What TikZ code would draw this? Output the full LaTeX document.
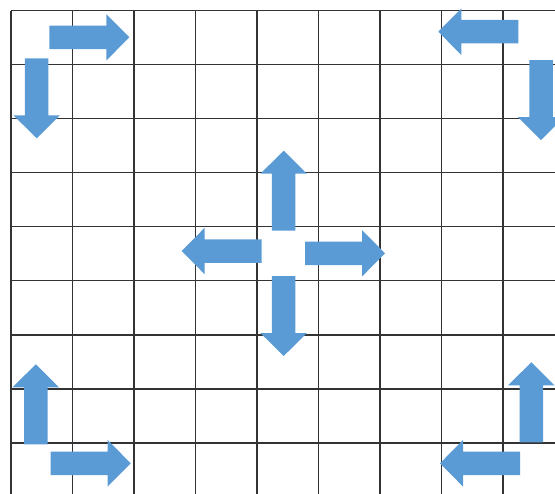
\documentclass[tikz,border=0pt]{standalone}
\definecolor{arrowblue}{HTML}{5B9BD5}
\begin{document}
\begin{tikzpicture}[
    x=0.02cm, y=-0.02cm,
    gridline/.style={draw=black!80, line width=0.8pt},
    blockarrow/.pic={\fill[arrowblue] (0,-11.75) -- (57,-11.75) -- (57,-23.25) -- (80,0) -- (57,23.25) -- (57,11.75) -- (0,11.75) -- cycle;}
]
\useasboundingbox (0,0) rectangle (555,494);
\foreach \i in {0,...,8}
    \draw[gridline] ({11+61.5*\i},10.5) -- ({11+61.5*\i},494);
\foreach \j in {0,...,8}
    \draw[gridline] (11,{10.5+54.05*\j}) -- (555,{10.5+54.05*\j});
\pic at (49.3,37.3) {blockarrow};
\pic[rotate=-90] at (36.7,58.3) {blockarrow};
\pic[rotate=180] at (518.3,31.7) {blockarrow};
\pic[rotate=-90] at (541,60) {blockarrow};
\pic[rotate=90] at (35.8,444.3) {blockarrow};
\pic at (50.7,463.3) {blockarrow};
\pic[rotate=90] at (531.3,442.3) {blockarrow};
\pic[rotate=180] at (520,463.3) {blockarrow};
\pic[rotate=90] at (283.7,230.7) {blockarrow};
\pic[rotate=180] at (261.7,251) {blockarrow};
\pic at (305,253.3) {blockarrow};
\pic[rotate=-90] at (283.7,276) {blockarrow};
\end{tikzpicture}
\end{document}
